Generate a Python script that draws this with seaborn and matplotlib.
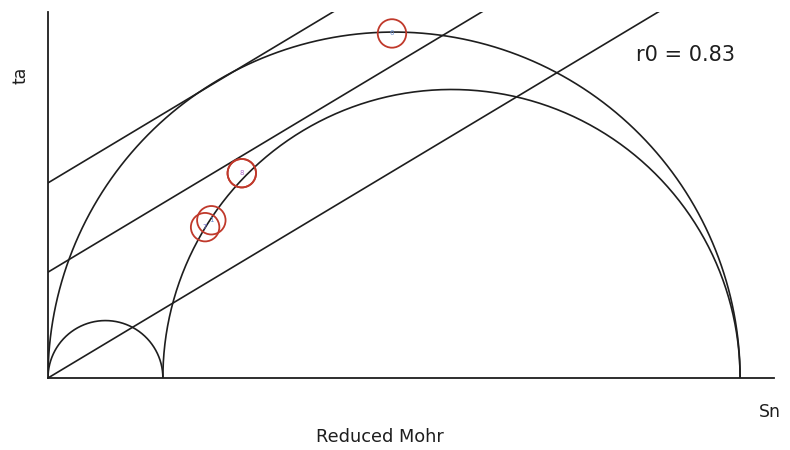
import numpy as np
import pandas as pd
import matplotlib
matplotlib.use("Agg")
import matplotlib.pyplot as plt
import seaborn as sns

# Reduced stresses (principal values, normalized)
sigmas = [0.0, 0.166, 1.0]
r0_text = "r0 = 0.83"

# Friction lines: slope and intercepts
line_slope = 0.6
line_intercepts = [0.0, 0.153, 0.282]

# Data points (reduced normal stress, shear stress) and labels
pt_sn = [0.497, 0.280, 0.280, 0.227, 0.236]
pt_ta = [0.498, 0.296, 0.296, 0.218, 0.228]
pt_labels = ["6", "8", "", "7", "1"]
pt_label_colors = ["#6a8fd0", "#b06ad0", "#b06ad0", "#6a6ad0", "#6a8fd0"]

sns.set_theme(style="white")
plt.rcParams['font.family'] = ['DejaVu Sans']

fig = plt.figure(figsize=(7.9, 4.5), dpi=100)
ax = fig.add_axes([48/790, 1-378/450, 726/790, 366/450])

xmax, ymax = 1.049, 0.529
ax.set_xlim(0, xmax)
ax.set_ylim(0, ymax)

# Mohr semicircles from pairs of principal stresses
pairs = [(sigmas[0], sigmas[1]), (sigmas[0], sigmas[2]), (sigmas[1], sigmas[2])]
th = np.linspace(0, np.pi, 400)
for a, b in pairs:
    c, r = (a + b) / 2, (b - a) / 2
    df = pd.DataFrame({"x": c + r*np.cos(th), "y": r*np.sin(th)})
    sns.lineplot(data=df, x="x", y="y", ax=ax, color="#1e1e1e", lw=1.2, sort=False, estimator=None)

# Friction lines
xs = np.array([0, xmax])
for b in line_intercepts:
    df = pd.DataFrame({"x": xs, "y": b + line_slope*xs})
    sns.lineplot(data=df, x="x", y="y", ax=ax, color="#1e1e1e", lw=1.2, sort=False, estimator=None)

# Points
pts = pd.DataFrame({"sn": pt_sn, "ta": pt_ta, "lab": pt_labels})
sns.scatterplot(data=pts, x="sn", y="ta", ax=ax, marker="o", s=420,
                facecolor="none", edgecolor="#c0392b", linewidth=1.3, zorder=5)
for x, y, l, c in zip(pt_sn, pt_ta, pt_labels, pt_label_colors):
    if l:
        ax.text(x, y, l, fontsize=5, color=c, ha="center", va="center", zorder=6)

for s in ["top", "right"]:
    ax.spines[s].set_visible(False)
for s in ["left", "bottom"]:
    ax.spines[s].set_color("#1e1e1e")
    ax.spines[s].set_linewidth(1.3)
ax.set_xticks([])
ax.set_yticks([])
ax.set_xlabel("")
ax.set_ylabel("")

fig.text(20/790, 1-75/450, "ta", rotation=90, fontsize=12.5, ha="center", va="center", color="#1e1e1e")
fig.text(770/790, 1-412/450, "Sn", fontsize=12.5, ha="center", va="center", color="#1e1e1e")
fig.text(380/790, 1-437/450, "Reduced Mohr", fontsize=12.8, ha="center", va="center", color="#1e1e1e")
fig.text(685/790, 1-55/450, r0_text, fontsize=15, ha="center", va="center", color="#1e1e1e")

fig.savefig("out.png", dpi=100)
